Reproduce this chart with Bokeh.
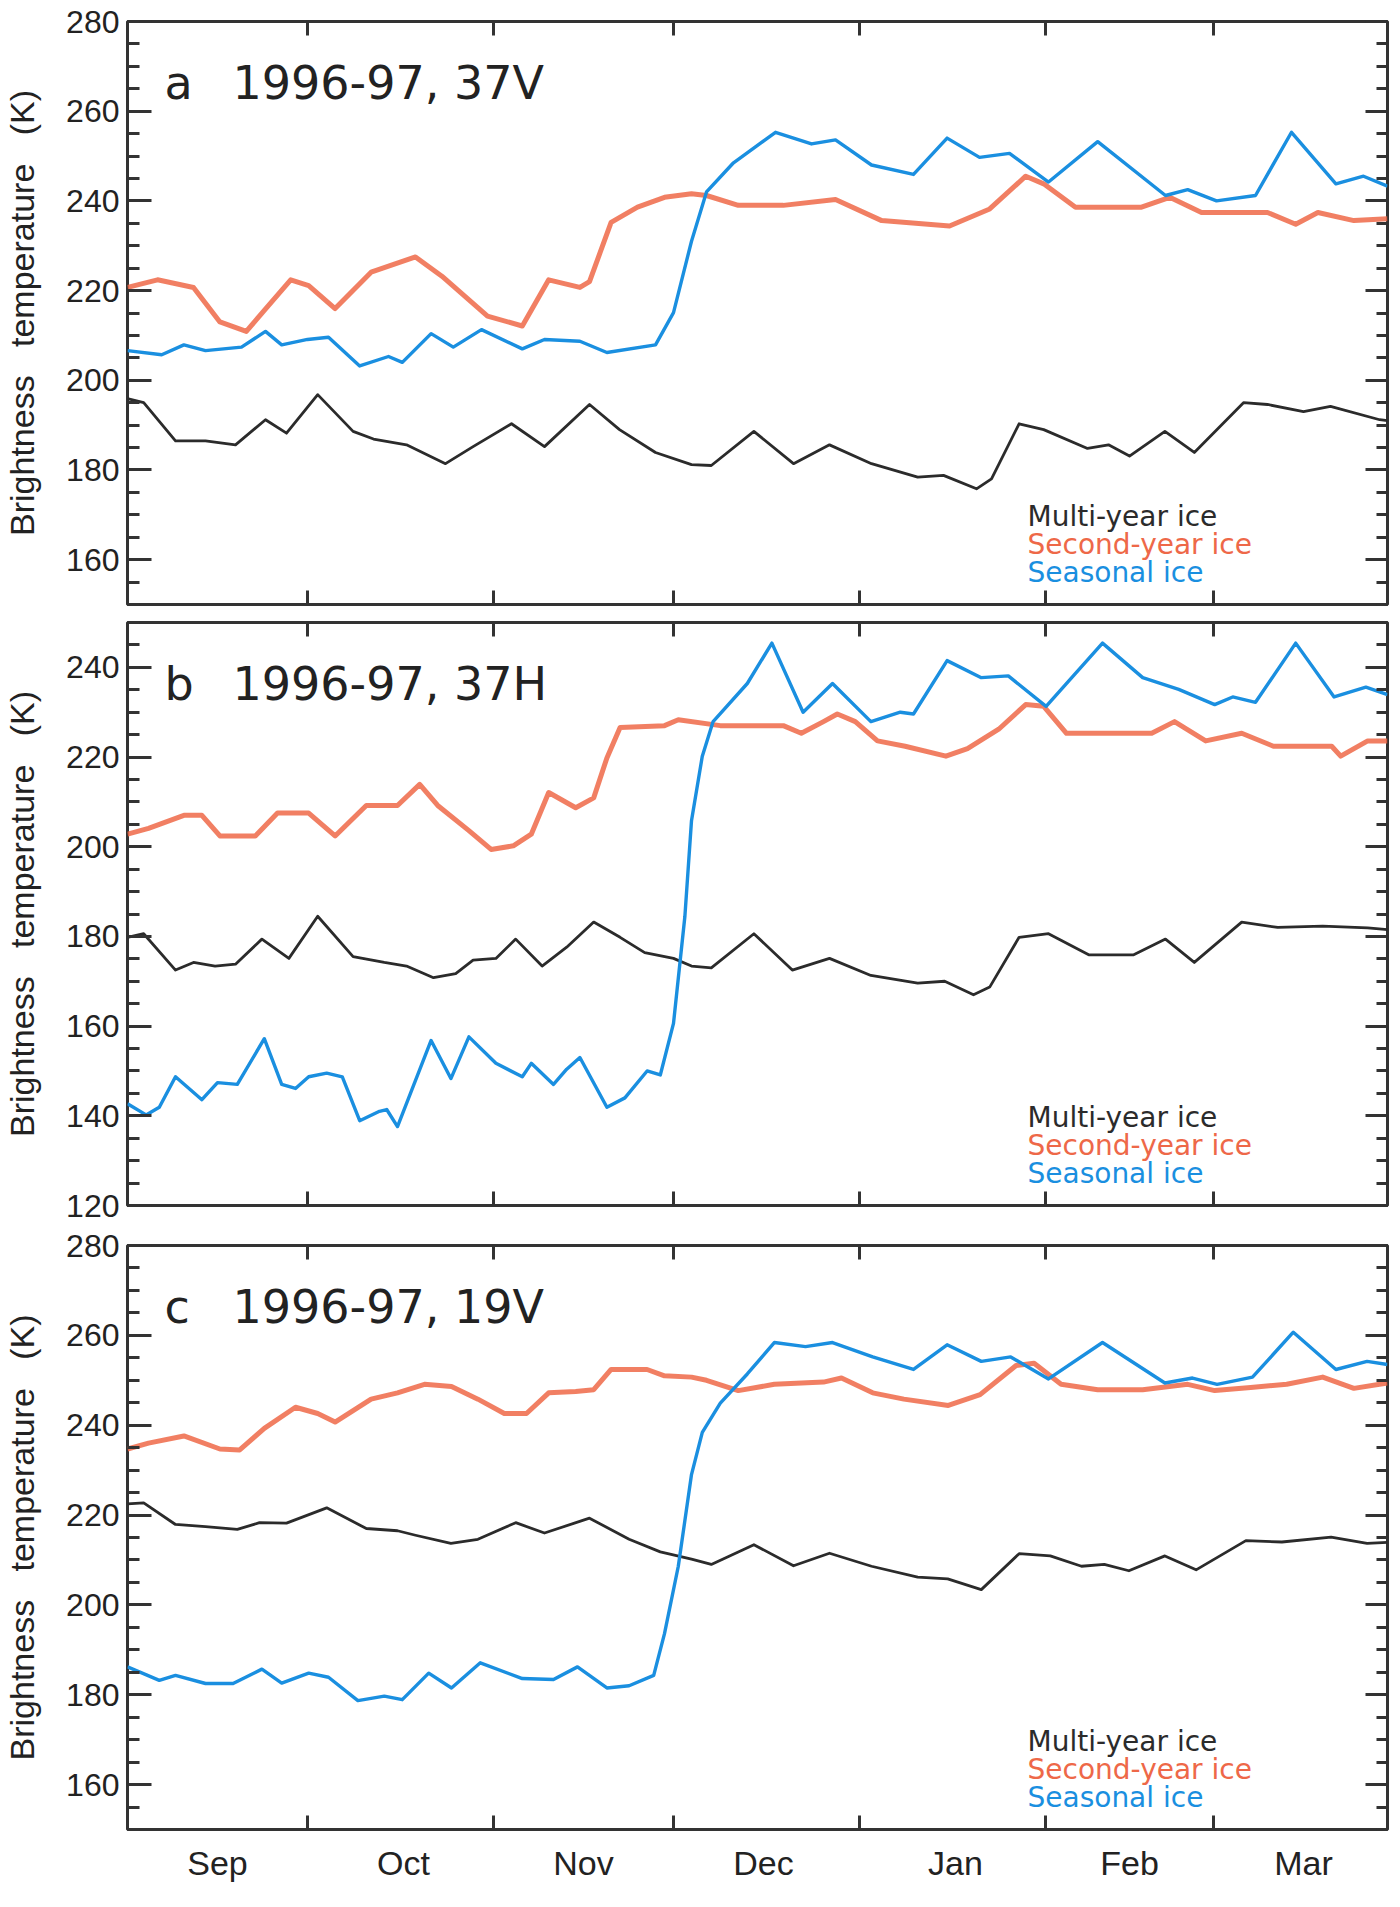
from bokeh.plotting import figure
from bokeh.models import FixedTicker, LinearAxis, Label, Range1d
from bokeh.layouts import column
from bokeh.embed import file_html
from bokeh.resources import INLINE

# x is days since 1 Sep 1996
months = ["Sep", "Oct", "Nov", "Dec", "Jan", "Feb", "Mar"]
month_start = [0, 30, 61, 91, 122, 153, 181]
day_end = 210

series_names = ["Multi-year ice", "Second-year ice", "Seasonal ice"]
colors = ["#2b2b2b", "#ee6848", "#1a8fe0"]

# ---- panel a: 37V
a_my_day = [0, 2.7, 8, 13, 18, 23, 26.5, 31.7, 37.6, 41, 46.5, 53, 57.6, 64, 69.5, 77, 82, 88, 94, 97.3,
            104.4, 111, 117, 124, 131.7, 136, 141.5, 144, 148.6, 152.7, 160, 163.5, 167, 172.9, 177.8,
            186, 190, 196, 200.5, 208.7, 210]
a_my = [195.9, 195, 186.5, 186.5, 185.6, 191.2, 188.2, 196.8, 188.6, 186.9, 185.6, 181.4, 185.2, 190.3,
        185.2, 194.6, 189, 183.9, 181.2, 181, 188.6, 181.4, 185.6, 181.4, 178.4, 178.8, 175.8, 178, 190.3,
        189, 184.8, 185.6, 183.1, 188.6, 183.9, 195, 194.6, 193, 194.2, 191.2, 191]
a_sy_day = [0, 5, 11, 15.4, 19.8, 22.8, 27.2, 30.2, 34.6, 40.6, 48, 52.4, 60, 65.8, 70.2, 75.4, 77, 80.6,
            85, 89.5, 94, 96.5, 101.8, 109.3, 118, 125.7, 137, 143.7, 149.7, 152.7, 158, 169, 173.7, 179,
            190, 194.7, 198.4, 204.4, 210]
a_sy = [220.7, 222.4, 220.7, 213, 210.9, 215.6, 222.4, 221.1, 216, 224.1, 227.5, 223.2, 214.3, 212.1,
        222.4, 220.7, 222, 235.2, 238.6, 240.8, 241.6, 241.2, 239, 239, 240.3, 235.6, 234.4, 238.2, 245.5,
        243.8, 238.6, 238.6, 240.8, 237.4, 237.4, 234.8, 237.4, 235.6, 236]
a_se_day = [0, 5.7, 9.4, 13, 19, 23, 25.7, 30, 33.5, 38.7, 43.5, 45.8, 50.6, 54.3, 59, 65.8, 69.5, 75.4,
            79.9, 88, 91, 94, 96.5, 101, 108, 114, 118, 124, 131, 136.6, 142, 147, 153.5, 161.7, 173,
            176.7, 181.5, 188, 194, 201.4, 206, 210]
a_se = [206.6, 205.7, 207.9, 206.6, 207.4, 210.9, 207.9, 209.1, 209.6, 203.2, 205.3, 204, 210.4, 207.4,
        211.3, 207, 209.1, 208.7, 206.2, 207.9, 215.1, 231, 242, 248.5, 255.3, 252.7, 253.6, 248, 245.9,
        254, 249.7, 250.6, 244.2, 253.2, 241.2, 242.5, 240, 241.2, 255.3, 243.8, 245.5, 243.3]

# ---- panel b: 37H
b_my_day = [0, 2.7, 8, 11, 14.6, 18, 22.4, 26.9, 31.7, 37.6, 42.8, 46.5, 51, 54.7, 57.6, 61.4, 64.7,
            69.1, 73.2, 77.7, 82.1, 86.2, 91, 94, 97.3, 104.4, 110.8, 117, 123.9, 131.7, 136.2, 141,
            143.7, 148.6, 153.5, 160.2, 167.7, 173, 177.8, 185.7, 191.7, 199.2, 206.7, 210]
b_my = [179.8, 180.6, 172.5, 174.2, 173.4, 173.8, 179.4, 175.1, 184.5, 175.5, 174.2, 173.4, 170.8, 171.7,
        174.7, 175.1, 179.4, 173.4, 177.6, 183.2, 179.8, 176.4, 175.1, 173.4, 173, 180.6, 172.5, 175.1,
        171.3, 169.6, 170, 167, 168.7, 179.8, 180.6, 175.9, 175.9, 179.4, 174.2, 183.2, 182, 182.3,
        181.9, 181.5]
b_sy_day = [0, 3.5, 9.4, 12.4, 15.4, 21.3, 25, 30.2, 34.6, 39.8, 45, 48.7, 51.7, 56.9, 60.6, 64.3, 67.3,
            70.2, 74.7, 77.7, 79.9, 82.1, 89.5, 91.8, 98.8, 109.3, 112.3, 116, 118.3, 121.3, 125, 129.6,
            136.4, 140, 145.2, 149.7, 152.7, 156.5, 161.7, 170.7, 174.5, 179.7, 185.7, 191, 200.7, 202.2,
            206.7, 210]
b_sy = [202.8, 204.1, 207, 207, 202.4, 202.4, 207.5, 207.5, 202.4, 209.2, 209.2, 213.9, 209.2, 203.6,
        199.4, 200.2, 202.8, 212.1, 208.7, 210.9, 219.8, 226.6, 227, 228.3, 227, 227, 225.3, 227.9, 229.6,
        227.9, 223.6, 222.4, 220.2, 221.9, 226.2, 231.7, 231.3, 225.3, 225.3, 225.3, 227.9, 223.6, 225.3,
        222.4, 222.4, 220.2, 223.6, 223.6]
b_se_day = [0, 3.1, 5.3, 8, 12.4, 15, 18.3, 22.8, 25.7, 28, 30.2, 33.2, 35.8, 38.7, 42, 43.2, 45, 50.6,
            53.9, 56.9, 61.4, 65.8, 67.3, 71, 73.2, 75.4, 79.9, 82.9, 86.6, 88.8, 91, 92.9, 94, 95.8, 97.6,
            103.3, 107.4, 112.6, 117.5, 123.9, 128.8, 131, 136.6, 142.3, 146.8, 153.1, 162.5, 169.2,
            175.2, 181.2, 184.2, 188, 194.7, 201.1, 206.4, 210]
b_se = [142.7, 140.2, 141.9, 148.7, 143.6, 147.4, 147, 157.2, 147, 146.1, 148.7, 149.5, 148.7, 138.9,
        141, 141.4, 137.6, 156.8, 148.3, 157.6, 151.7, 148.7, 151.7, 147, 150.4, 153, 141.9, 144, 150,
        149.1, 160.6, 184.5, 205.8, 220.2, 227.9, 236.4, 245.4, 230, 236.4, 227.9, 230, 229.6, 241.5,
        237.7, 238.1, 231.3, 245.4, 237.7, 235.1, 231.7, 233.4, 232.2, 245.4, 233.4, 235.6, 233.9]

# ---- panel c: 19V
c_my_day = [0, 2.7, 8, 13, 18.3, 22, 26.5, 33.2, 39.8, 45, 48, 53.9, 58.4, 64.7, 69.5, 77, 83.6, 88.8,
            94, 97.3, 104.4, 111, 117, 124, 131.7, 136.7, 142.3, 148.6, 153.8, 159, 162.8, 166.9, 172.9,
            178.1, 186.4, 192.4, 200.6, 206.6, 210]
c_my = [222.5, 222.7, 217.9, 217.4, 216.8, 218.3, 218.2, 221.6, 217, 216.5, 215.5, 213.7, 214.6, 218.3,
        216, 219.3, 214.6, 211.8, 210.2, 209, 213.4, 208.7, 211.5, 208.6, 206.2, 205.8, 203.4, 211.4,
        210.9, 208.6, 209, 207.6, 210.9, 207.8, 214.3, 214, 215.1, 213.7, 213.9]
c_sy_day = [0, 3.5, 9.4, 15.4, 18.7, 22.8, 28, 31.7, 34.6, 40.6, 45, 49.5, 54, 58.4, 62.8, 66.5, 70.2,
            74.7, 77.7, 80.6, 86.6, 89.5, 94, 96.5, 101.8, 107.8, 116, 119, 124.2, 129.4, 136.8, 142.1,
            148.1, 151.1, 155.6, 161.7, 169.2, 176.7, 181.2, 187.2, 193.2, 199.2, 204.4, 210]
c_sy = [234.7, 236, 237.6, 234.7, 234.5, 239.3, 244, 242.6, 240.7, 245.8, 247.2, 249.1, 248.6, 245.8,
        242.6, 242.6, 247.2, 247.5, 247.9, 252.4, 252.4, 251, 250.7, 250, 247.7, 249.1, 249.6, 250.5,
        247.2, 245.8, 244.4, 246.8, 253.3, 253.8, 249.1, 247.9, 247.9, 249.1, 247.7, 248.4, 249.1, 250.7,
        248.2, 249.4]
c_se_day = [0, 5.3, 8, 13, 17.6, 22.4, 25.7, 30.2, 33.5, 38.4, 42.8, 45.8, 50.2, 54, 58.8, 65.8, 71, 75,
            79.9, 83.6, 87.7, 89.5, 91.8, 94, 95.8, 98.8, 103.3, 107.8, 113, 117.5, 124.2, 131, 136.6,
            142.3, 147.2, 153.5, 162.5, 172.9, 177.5, 181.6, 187.5, 194.3, 201.4, 206.6, 210]
c_se = [186.2, 183.2, 184.3, 182.5, 182.5, 185.7, 182.6, 184.8, 183.9, 178.7, 179.7, 178.9, 184.8, 181.5,
        187.1, 183.6, 183.4, 186.2, 181.5, 182, 184.3, 193.6, 208.6, 229, 238.4, 244.9, 251.4, 258.4,
        257.5, 258.4, 255.2, 252.4, 257.9, 254.2, 255.2, 250.3, 258.4, 249.4, 250.5, 249.1, 250.7,
        260.7, 252.4, 254.2, 253.5]

FRAME_W = 1260
font = "Liberation Sans"
ink = "#333333"


def tick_axis(ticks, length):
    # label-less axis that only draws inward tick marks
    return LinearAxis(ticker=FixedTicker(ticks=[], minor_ticks=ticks), axis_line_color=None,
                      major_tick_in=0, major_tick_out=0, major_label_standoff=0,
                      minor_tick_in=length, minor_tick_out=0,
                      minor_tick_line_width=3, minor_tick_line_color=ink)


def panel(tag, title, ylo, yhi, yticks, lines, frame_h, top, bottom, labels):
    p = figure(frame_width=FRAME_W, frame_height=frame_h,
               x_range=Range1d(0, day_end), y_range=Range1d(ylo, yhi),
               x_axis_location=None, y_axis_location=None,
               output_backend="svg", toolbar_location=None,
               min_border_left=0, min_border_right=2,
               min_border_top=top, min_border_bottom=bottom)
    p.grid.visible = False
    p.outline_line_color = ink
    p.outline_line_width = 3

    minor = list(range(ylo, yhi + 1, 5))
    left = LinearAxis(ticker=FixedTicker(ticks=yticks, minor_ticks=minor),
                      axis_line_color=None,
                      major_tick_in=24, major_tick_out=0, major_tick_line_width=3,
                      minor_tick_in=12, minor_tick_out=0, minor_tick_line_width=3,
                      major_tick_line_color=ink, minor_tick_line_color=ink,
                      major_label_text_font=font, major_label_text_font_size="32px",
                      major_label_text_color="#222222", major_label_standoff=8,
                      axis_label="Brightness\u00a0\u00a0\u00a0temperature\u00a0\u00a0\u00a0(K)",
                      axis_label_text_font=font, axis_label_text_font_size="34px",
                      axis_label_text_font_style="normal", axis_label_text_color="#222222",
                      axis_label_standoff=22)
    p.add_layout(left, "left")
    p.add_layout(tick_axis(minor, 11), "right")
    p.add_layout(tick_axis(yticks, 22), "right")
    p.add_layout(tick_axis(month_start[1:], 14), "above")

    if labels:
        mids = []
        for i, m in enumerate(month_start):
            nxt = month_start[i + 1] if i + 1 < len(month_start) else day_end
            mids.append(round((m + nxt) / 2))
        bottom_ax = LinearAxis(ticker=FixedTicker(ticks=mids, minor_ticks=month_start[1:]),
                               axis_line_color=None, major_tick_in=0, major_tick_out=0,
                               minor_tick_in=14, minor_tick_out=0,
                               minor_tick_line_width=3, minor_tick_line_color=ink,
                               major_label_overrides={t: s for t, s in zip(mids, months)},
                               major_label_text_font=font, major_label_text_font_size="34px",
                               major_label_text_color="#222222", major_label_standoff=14)
    else:
        bottom_ax = tick_axis(month_start[1:], 14)
    p.add_layout(bottom_ax, "below")

    widths = [2.8, 5, 3.4]
    alphas = [1.0, 0.85, 1.0]
    for (xs, ys), c, w, a in zip(lines, colors, widths, alphas):
        p.line(xs, ys, line_color=c, line_width=w, line_alpha=a, line_join="round")

    p.add_layout(Label(x=37, y=frame_h - 61, x_units="screen", y_units="screen", text=tag,
                       text_font="DejaVu Sans", text_font_size="46px", text_color="#222222",
                       text_baseline="middle"))
    p.add_layout(Label(x=105, y=frame_h - 61, x_units="screen", y_units="screen", text=title,
                       text_font="DejaVu Sans", text_font_size="46px", text_color="#222222",
                       text_baseline="middle"))
    for i, (name, c) in enumerate(zip(series_names, colors)):
        p.add_layout(Label(x=900, y=32 + 28 * (2 - i), x_units="screen", y_units="screen", text=name,
                           text_font="DejaVu Sans", text_font_size="28px", text_color=c,
                           text_baseline="middle"))
    return p


pa = panel("a", "1996-97, 37V", 150, 280, [160, 180, 200, 220, 240, 260, 280],
           [(a_my_day, a_my), (a_sy_day, a_sy), (a_se_day, a_se)], 583, 21, 9, False)
pb = panel("b", "1996-97, 37H", 120, 250, [120, 140, 160, 180, 200, 220, 240],
           [(b_my_day, b_my), (b_sy_day, b_sy), (b_se_day, b_se)], 583, 9, 20, False)
pc = panel("c", "1996-97, 19V", 150, 280, [160, 180, 200, 220, 240, 260, 280],
           [(c_my_day, c_my), (c_sy_day, c_sy), (c_se_day, c_se)], 584, 20, 0, True)

p = column(pa, pb, pc, spacing=0)
open("out.html", "w").write(file_html(p, INLINE))
